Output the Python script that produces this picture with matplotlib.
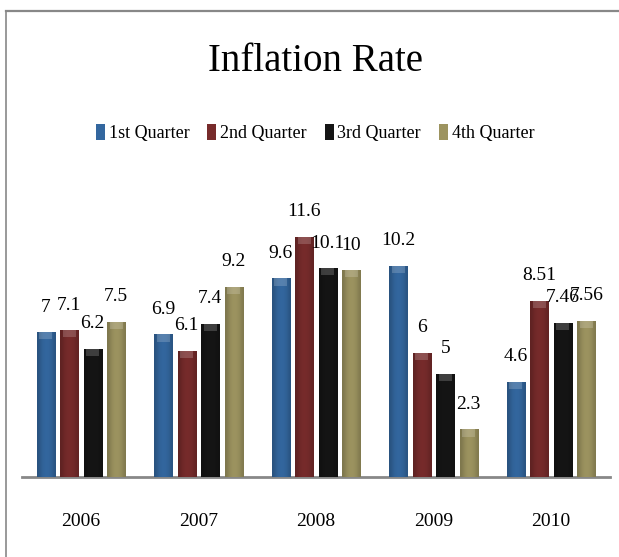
import numpy as np
import matplotlib
matplotlib.use("Agg")
import matplotlib.pyplot as plt
from matplotlib.lines import Line2D
from matplotlib.colors import to_rgb

years = ["2006", "2007", "2008", "2009", "2010"]
series = ["1st Quarter", "2nd Quarter", "3rd Quarter", "4th Quarter"]
q1 = [7, 6.9, 9.6, 10.2, 4.6]
q2 = [7.1, 6.1, 11.6, 6, 8.51]
q3 = [6.2, 7.4, 10.1, 5, 7.46]
q4 = [7.5, 9.2, 10, 2.3, 7.56]
labels = [["7", "6.9", "9.6", "10.2", "4.6"],
          ["7.1", "6.1", "11.6", "6", "8.51"],
          ["6.2", "7.4", "10.1", "5", "7.46"],
          ["7.5", "9.2", "10", "2.3", "7.56"]]

colors = ["#33679f", "#772b2b", "#151515", "#9d9460"]
SERIF = "Liberation Serif"

fig = plt.figure(figsize=(6.19, 5.57), dpi=100)
ax = fig.add_axes([0.036, 0.1436, 0.949, 0.52])

x = np.arange(len(years))
width = 0.155
step = 0.2
grad = np.array([0.55, 0.8, 0.95, 1.0, 0.95, 0.85, 0.6])


def shade(c, f):
    r, g, b = to_rgb(c)
    k = 0.55 + 0.45 * f
    return (r * k, g * k, b * k)


handles = []
for i, (vals, col) in enumerate(zip([q1, q2, q3, q4], colors)):
    bars = ax.bar(x + (i - 1.5) * step, vals, width, color=col, label=series[i],
                  edgecolor="none", zorder=2)
    handles.append(bars)
    img = np.array([[shade(col, f) for f in grad]])
    for b, lab in zip(bars, labels[i]):
        bx, by = b.get_x(), b.get_y()
        bw, bh = b.get_width(), b.get_height()
        im = ax.imshow(img, extent=(bx, bx + bw, by, by + bh), aspect="auto",
                       zorder=3, interpolation="bicubic")
        im.set_clip_path(b)
        # lighter bevel at the top
        ax.fill_between([bx + bw * 0.15, bx + bw * 0.85], by + bh - 0.35, by + bh,
                        color="white", alpha=0.18, zorder=4, linewidth=0)
        ax.text(bx + bw / 2, by + bh + 0.8, lab, ha="center", va="bottom",
                fontsize=14, color="black", family=SERIF)

ax.set_xlim(-0.5, len(years) - 0.5)
ax.set_ylim(0, 14)
ax.set_xticks(x)
ax.set_xticklabels(years, fontsize=14, family=SERIF)
ax.tick_params(axis="x", length=0, pad=26)
ax.set_yticks([])
for s in ["top", "right", "left"]:
    ax.spines[s].set_visible(False)
ax.spines["bottom"].set_color("#888888")
ax.spines["bottom"].set_linewidth(2)

fig.text(0.509, 0.889, "Inflation Rate", ha="center", va="center",
         fontsize=28, family=SERIF)
leg = fig.legend(handles=handles, labels=series, loc="center", bbox_to_anchor=(0.509, 0.761),
                 ncol=4, frameon=False, handlelength=0.5, handleheight=1.0,
                 columnspacing=1.0, handletextpad=0.2,
                 prop=dict(size=13, family=SERIF))

# picture frame (top and left edges)
fig.add_artist(Line2D([0.0097, 1.0], [0.980, 0.980], color="#888888", linewidth=1.6,
                      transform=fig.transFigure))
fig.add_artist(Line2D([0.0097, 0.0097], [0.0, 0.980], color="#888888", linewidth=1.2,
                      transform=fig.transFigure))

fig.savefig("out.png", dpi=100)
